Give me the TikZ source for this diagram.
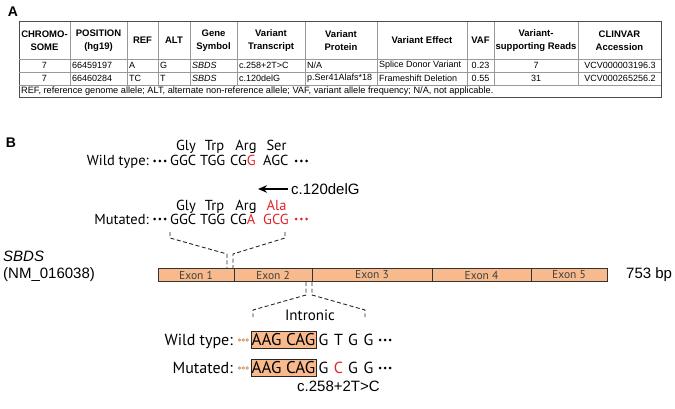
\documentclass[tikz,border=0pt]{standalone}
\usepackage{fontspec}
\setmainfont{Liberation Sans}
\newfontfamily\myr{PT Sans}
\usetikzlibrary{arrows.meta}
\definecolor{exonfill}{RGB}{248,186,140}
\definecolor{seqred}{RGB}{224,36,40}
\definecolor{odot}{RGB}{200,130,72}
\begin{document}
\begin{tikzpicture}[x=1pt,y=-1pt,
  tline/.style={draw=black!40, line width=0.6pt},
  tborder/.style={draw=black!70, line width=1pt},
  hdr/.style={font=\fontsize{9.5}{12.5}\selectfont\bfseries, align=center, inner sep=0},
  cell/.style={font=\fontsize{9}{10}\selectfont, inner sep=0, anchor=west},
  cellc/.style={font=\fontsize{9}{10}\selectfont, inner sep=0},
  seq/.style={font=\myr\fontsize{14.5}{16}\selectfont, inner sep=0, anchor=base west},
  seqe/.style={font=\myr\fontsize{14.5}{16}\selectfont, inner sep=0, anchor=base east},
  seqc/.style={font=\myr\fontsize{14.5}{16}\selectfont, inner sep=0, anchor=base},
  seqbe/.style={font=\myr\fontsize{16}{18}\selectfont, inner sep=0, anchor=base east},
  seqbc/.style={font=\myr\fontsize{16}{18}\selectfont, inner sep=0, anchor=base},
  lbl/.style={font=\fontsize{15}{17}\selectfont, inner sep=0},
  panel/.style={font=\fontsize{14}{16}\selectfont\bfseries, inner sep=0},
  exon/.style={draw=black!80, fill=exonfill, line width=0.8pt, inner sep=0, outer sep=0, minimum height=13.5pt, font=\myr\fontsize{11.5}{12}\selectfont, text=black!75},
  seqbox/.style={draw=black!85, fill=exonfill, line width=0.9pt, inner sep=0, outer sep=0, minimum width=65pt, font=\myr\fontsize{17}{18}\selectfont},
  odotst/.style={draw=odot, fill=exonfill!50, line width=0.5pt},
  brk/.style={dash pattern=on 4pt off 2.5pt, line width=0.9pt, draw=black!85},
]
\useasboundingbox (0,0) rectangle (675,409);

% ---------- Panel A ----------
\node[panel] (pA) at (13,12) {A};
\draw[tborder] (19,22) rectangle (661,98);
\foreach \yy in {59,72,85} \draw[tline] (19,\yy) -- (661,\yy);
\foreach \xx in {70,127,158,190,237,305,377,467,494,578} \draw[tline] (\xx,22) -- (\xx,85);

\node[hdr] (h1) at (44.5,40.5) {CHROMO-\\SOME};
\node[hdr] (h2) at (98.5,40.5) {POSITION\\(hg19)};
\node[hdr] (h3) at (142.5,40.5) {REF};
\node[hdr] (h4) at (174,40.5) {ALT};
\node[hdr] (h5) at (213.5,40.5) {Gene\\Symbol};
\node[hdr] (h6) at (271,40.5) {Variant\\Transcript};
\node[hdr] (h7) at (341,40.5) {Variant\\Protein};
\node[hdr] (h8) at (422,40.5) {Variant Effect};
\node[hdr] (h9) at (480.5,40.5) {VAF};
\node[hdr] (h10) at (536,40.5) {Variant-\\supporting Reads};
\node[hdr] (h11) at (619.5,40.5) {CLINVAR\\Accession};

\node[cellc] (r1c1) at (44.5,65.5) {7};
\node[cell] (r1c2) at (72,65.5) {66459197};
\node[cell] (r1c3) at (129,65.5) {A};
\node[cell] (r1c4) at (160,65.5) {G};
\node[cell] (r1c5) at (192,65.5) {\itshape SBDS};
\node[cell] (r1c6) at (239,65.5) {c.258+2T>C};
\node[cell] (r1c7) at (307,65.5) {N/A};
\node[cell] (r1c8) at (379,65.5) {Splice Donor Variant};
\node[cellc] (r1c9) at (480.5,65.5) {0.23};
\node[cellc] (r1c10) at (536,65.5) {7};
\node[cellc] (r1c11) at (620,65.5) {VCV000003196.3};

\node[cellc] (r2c1) at (44.5,78.5) {7};
\node[cell] (r2c2) at (72,78.5) {66460284};
\node[cell] (r2c3) at (129,78.5) {TC};
\node[cell] (r2c4) at (160,78.5) {T};
\node[cell] (r2c5) at (192,78.5) {\itshape SBDS};
\node[cell] (r2c6) at (239,78.5) {c.120delG};
\node[cell] (r2c7) at (307,78.5) {p.Ser41Alafs*18};
\node[cell] (r2c8) at (379,78.5) {Frameshift Deletion};
\node[cellc] (r2c9) at (480.5,78.5) {0.55};
\node[cellc] (r2c10) at (536,78.5) {31};
\node[cellc] (r2c11) at (620,78.5) {VCV000265256.2};

\node[cell, font=\fontsize{9.2}{10}\selectfont] (foot) at (21,91.5) {REF, reference genome allele; ALT, alternate non-reference allele; VAF, variant allele frequency; N/A, not applicable.};

% ---------- Panel B ----------
\node[panel] (pB) at (11,143) {B};

% wild type (upper)
\node[seqc] (aa1) at (186,150) {Gly};
\node[seqc] (aa2) at (214.5,150) {Trp};
\node[seqc] (aa3) at (246,150) {Arg};
\node[seqc] (aa4) at (276.5,150) {Ser};
\node[seqe] (wtlab) at (149,166) {Wild type:};
\foreach \i in {0,1,2} \fill (154.5+\i*5.3,161) circle (1.5);
\node[seq] (wc1) at (170,166) {GGC};
\node[seq] (wc2) at (200,166) {TGG};
\node[seq] (wc3) at (230,166) {CG\textcolor{seqred}{G}};
\node[seq] (wc4) at (263,166) {AGC};
\foreach \i in {0,1,2} \fill (296+\i*5.3,161) circle (1.5);

% deletion arrow
\node[lbl, anchor=west] (del) at (291,189) {c.120delG};
\coordinate (arrE) at (258,189);
\draw[-{Stealth[length=9pt,width=7.5pt]}, line width=1.2pt] ([xshift=-3pt]del.west) -- (arrE);

% mutated (upper)
\node[seqc] (ma1) at (186,211) {Gly};
\node[seqc] (ma2) at (214.5,211) {Trp};
\node[seqc] (ma3) at (246,211) {Arg};
\node[seqc, text=seqred] (ma4) at (276.5,211) {Ala};
\node[seqe] (mtlab) at (149,224) {Mutated:};
\foreach \i in {0,1,2} \fill (154.5+\i*5.3,219) circle (1.5);
\node[seq] (mc1) at (170,224) {GGC};
\node[seq] (mc2) at (200,224) {TGG};
\node[seq] (mc3) at (230,224) {CG\textcolor{seqred}{A}};
\node[seq, text=seqred] (mc4) at (263,224) {GCG};
\foreach \i in {0,1,2} \fill[seqred] (296+\i*5.3,219) circle (1.5);

% upper bracket
\coordinate (ua1) at (170,232); \coordinate (ua2) at (170,238);
\coordinate (ua3) at (227,254); \coordinate (ua4) at (227,268);
\coordinate (ub1) at (285,232); \coordinate (ub2) at (285,238);
\coordinate (ub3) at (233,254); \coordinate (ub4) at (233,268);
\draw[brk] (ua1) -- (ua2) -- (ua3) -- (ua4);
\draw[brk] (ub1) -- (ub2) -- (ub3) -- (ub4);

% gene
\node[lbl, anchor=west, font=\fontsize{15}{17}\selectfont\itshape] (gene) at (3,256) {SBDS};
\node[lbl, anchor=west] (nm) at (3,275) {(NM\_016038)};
\node[exon, minimum width=76pt] (e1) at (196,275) {Exon 1};
\node[exon, minimum width=78pt] (e2) at (273,275) {Exon 2};
\node[exon, minimum width=120pt] (e3) at (372,275) {Exon 3};
\node[exon, minimum width=99pt] (e4) at (481.5,275) {Exon 4};
\node[exon, minimum width=76pt] (e5) at (569,275) {Exon 5};
\node[lbl, anchor=west] (bp) at (626,275) {753 bp};

% lower bracket
\coordinate (la1) at (306,282); \coordinate (la2) at (306,295);
\coordinate (la3) at (253,310); \coordinate (la4) at (253,317);
\coordinate (lb1) at (312,282); \coordinate (lb2) at (312,295);
\coordinate (lb3) at (365,310); \coordinate (lb4) at (365,317);
\draw[brk] (la1) -- (la2) -- (la3) -- (la4);
\draw[brk] (lb1) -- (lb2) -- (lb3) -- (lb4);
\node[seqbc, font=\myr\fontsize{15}{17}\selectfont] (intr) at (310,320) {Intronic};

% lower wild type
\node[seqbe] (wt2lab) at (233,345) {Wild type:};
\foreach \i in {0,1,2} \filldraw[odotst] (239.5+\i*3.8,340) circle (1.3);
\node[seqbox, minimum height=17.5pt] (wtbox) at (283.5,340) {AAG CAG};
\node[seqbc] (wg1) at (323.5,345) {G};
\node[seqbc] (wg2) at (338.5,345) {T};
\node[seqbc] (wg3) at (353,345) {G};
\node[seqbc] (wg4) at (368.5,345) {G};
\foreach \i in {0,1,2} \fill (380+\i*5,340) circle (1.5);

% lower mutated
\node[seqbe] (mt2lab) at (233,373) {Mutated:};
\foreach \i in {0,1,2} \filldraw[odotst] (239.5+\i*3.8,368) circle (1.3);
\node[seqbox, minimum height=17.5pt] (mtbox) at (283.5,368) {AAG CAG};
\node[seqbc] (mg1) at (323.5,373) {G};
\node[seqbc, text=seqred] (mg2) at (338.5,373) {C};
\node[seqbc] (mg3) at (353,373) {G};
\node[seqbc] (mg4) at (368.5,373) {G};
\foreach \i in {0,1,2} \fill (380+\i*5,368) circle (1.5);

\node[lbl, anchor=west] (splice) at (297,386) {c.258+2T>C};
\end{tikzpicture}
\end{document}
